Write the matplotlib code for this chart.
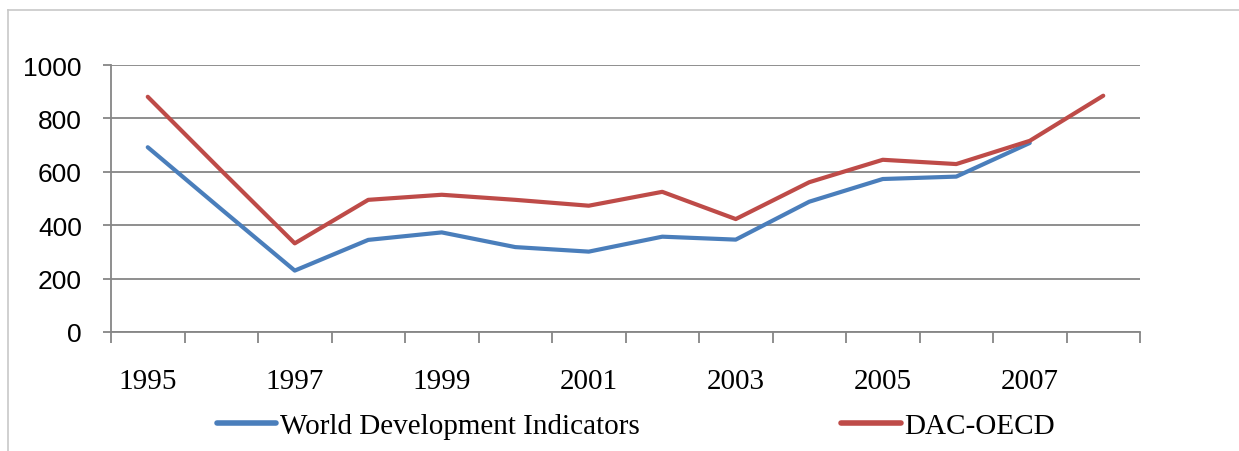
import numpy as np
import matplotlib
matplotlib.use("Agg")
import matplotlib.pyplot as plt
from matplotlib.lines import Line2D

### DATA ###
years = list(range(1995, 2009))
wdi   = [692, 460, 230, 345, 373, 318, 301, 357, 346, 488, 573, 582, 708, np.nan]
dac   = [881, 605, 332, 495, 514, 495, 473, 525, 423, 561, 645, 629, 716, 885]
tick_years = [1995, 1997, 1999, 2001, 2003, 2005, 2007]

blue = "#4A7EBB"
red  = "#BE4B48"
grey = "#868686"

### PLOTTING ###
fig = plt.figure(figsize=(12.39, 4.52), dpi=100)
ax = fig.add_axes([111/1239, 1-333/452, (1140-111)/1239, (333-66)/452])

x = np.arange(len(years))
ax.plot(x, wdi, color=blue, lw=3.0, solid_capstyle="round", label="World Development Indicators")
ax.plot(x, dac, color=red, lw=3.0, solid_capstyle="round", label="DAC-OECD")

ax.set_xlim(-0.5, len(years)-0.5)
ax.set_ylim(0, 1000)
ax.set_yticks(np.arange(0, 1001, 200))
ax.yaxis.grid(True, color=grey, lw=1.3)
ax.set_axisbelow(True)

# category boundaries get the tick marks, labels sit on the category centres
ax.set_xticks(np.arange(len(years)+1) - 0.5)
ax.set_xticklabels([])
ax.set_xticks([years.index(y) for y in tick_years], minor=True)
ax.set_xticklabels([str(y) for y in tick_years], minor=True,
                   family="Liberation Serif", fontsize=21)
ax.tick_params(axis="x", which="major", direction="out", length=8, width=1.3, color=grey)
ax.tick_params(axis="x", which="minor", length=0, pad=26)
ax.tick_params(axis="y", direction="out", length=6, width=1.3, color=grey, pad=15, labelsize=19)
for lab in ax.get_yticklabels():
    lab.set_family("Liberation Sans")

for s in ["top", "right"]:
    ax.spines[s].set_visible(False)
for s in ["left", "bottom"]:
    ax.spines[s].set_color(grey)
    ax.spines[s].set_linewidth(1.3)

leg = fig.legend(loc="center", bbox_to_anchor=(0.513, 1-427/452), ncol=2, frameon=False,
                 handlelength=2.05, handletextpad=0.12, columnspacing=6.9,
                 prop={"family": "Liberation Serif", "size": 21})
for h in leg.legend_handles:
    h.set_linewidth(4)

# light frame of the original chart area
fig.add_artist(Line2D([8/1239, 8/1239], [0, 1-11/452], color="#C8C8C8", lw=1.2))
fig.add_artist(Line2D([8/1239, 1], [1-11/452, 1-11/452], color="#C8C8C8", lw=1.2))

fig.savefig("out.png", dpi=100)
